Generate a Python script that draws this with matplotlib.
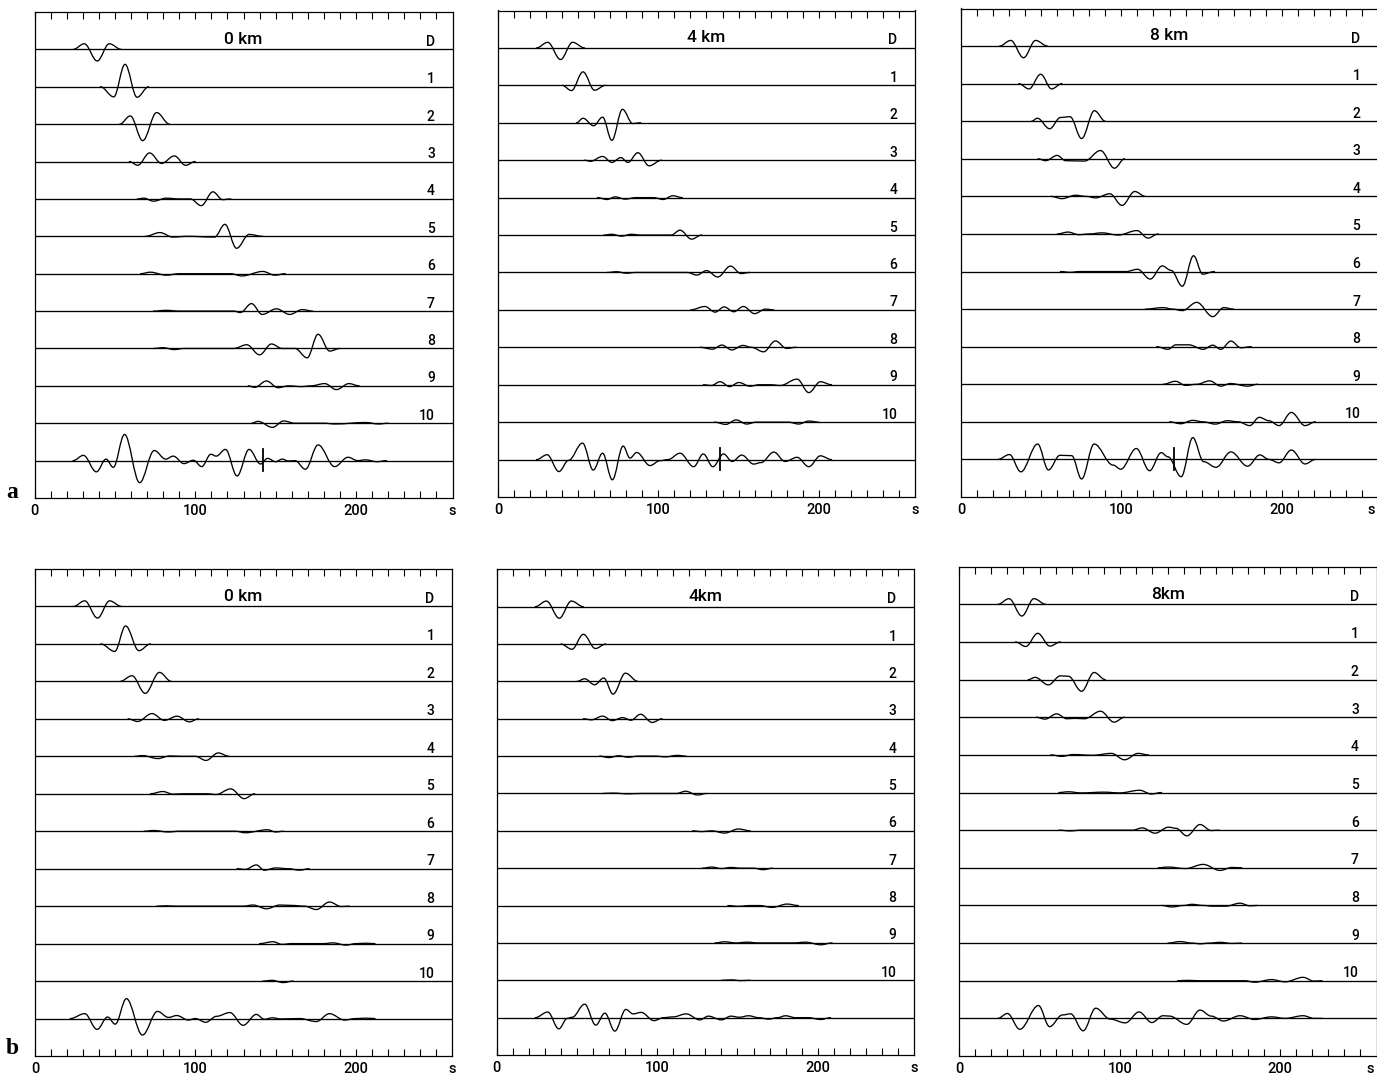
"""Seismogram panels (a, b): direct wave D, higher modes 1-10 and their sum, at 0, 4, 8 km."""
import numpy as np
import matplotlib
matplotlib.use("Agg")
import matplotlib.pyplot as plt
from matplotlib.path import Path
from matplotlib.patches import PathPatch

plt.rcParams["font.family"] = ["Roboto", "DejaVu Sans"]

# --- data: wavelet extrema, (time s, amplitude in trace spacings) ---
TRACE_LABELS = ["D", "1", "2", "3", "4", "5", "6", "7", "8", "9", "10"]
TITLES_A = ["0 km", "4 km", "8 km"]
TITLES_B = ["0 km", "4km", "8km"]
SUM_MARK_A = [142.0, 138.5, 132.5]   # vertical marker on the sum trace, row a

DIRECT = [(24, 0), (31, 0.15), (39, -0.31), (46.5, 0.15), (54, 0)]

A_0KM = [
    [(41, 0), (49.3, -0.27), (56.3, 0.60), (63.8, -0.28), (71, 0)],
    [(53, 0), (59.6, 0.22), (67.3, -0.44), (76, 0.31), (84, 0)],
    [(59, 0), (64.2, -0.1), (71.6, 0.23), (79, -0.05), (87, 0.15), (94, -0.1), (100, 0)],
    [(64, 0), (68, 0.02), (74, -0.06), (82, 0.02), (90, 0), (97, 0), (103.7, -0.18), (111, 0.19), (117, -0.02), (122, 0)],
    [(69, 0), (78, 0.1), (86, -0.02), (95, 0), (112, -0.02), (118.4, 0.32), (125.7, -0.32), (133.5, 0.05), (142, 0)],
    [(66, 0), (72, 0.04), (82, -0.04), (90, 0), (122, 0), (129, -0.06), (142, 0.06), (149.5, -0.04), (156, 0)],
    [(74, 0), (82, 0.02), (90, 0), (124, 0), (128, -0.04), (135, 0.2), (141.6, -0.09), (150.5, 0.06), (158.8, -0.09), (166.5, 0.04), (173, 0)],
    [(74, 0), (80, 0.02), (87, -0.03), (93, 0), (124, 0), (132, 0.1), (140, -0.17), (147.4, 0.12), (154, 0), (162, 0), (169.6, -0.25), (176.4, 0.38), (183.6, -0.07), (190, 0)],
    [(133, 0), (137, -0.04), (144.3, 0.13), (151.5, -0.05), (158, 0), (166, -0.02), (172, 0), (180.5, 0.06), (187.8, -0.1), (195.6, 0.06), (202, 0)],
    [(135, 0), (139, 0.05), (148, -0.11), (155, 0.06), (162, 0), (180, 0), (187, -0.02), (206, 0.02), (214, -0.02), (220, 0)],
    [(24, 0), (30.4, 0.14), (38.5, -0.30), (44.5, 0.04), (49, -0.18), (56, 0.70), (65.4, -0.59), (74.5, 0.27), (81.6, 0.04),
     (86.3, 0.12), (93, -0.08), (98.8, 0.01), (104, -0.16), (109.7, 0.17), (113, 0.12), (118.8, 0.30), (126, -0.41),
     (133.5, 0.30), (140.6, -0.09), (145, 0.06), (150, -0.03), (154, 0.04), (158, -0.01), (162, 0), (168.5, -0.23),
     (176.4, 0.42), (186.7, -0.16), (195, 0.09), (201, 0), (206, 0.02), (213, -0.03), (219, 0)],
]

A_4KM = [
    [(40, 0), (45.8, -0.14), (53, 0.36), (60.2, -0.13), (67, 0)],
    [(49, 0), (53, 0.12), (59.6, -0.08), (65.2, 0.15), (71, -0.47), (77.6, 0.36), (84, -0.02), (89, 0)],
    [(54, 0), (57.6, -0.03), (65.2, 0.1), (71, -0.06), (76.6, 0.07), (81, -0.06), (87.2, 0.2), (94.2, -0.15), (102, 0)],
    [(62, 0), (68, -0.05), (73, 0.02), (79.3, -0.04), (86, 0), (97, 0), (103, -0.05), (109, 0.05), (115, 0)],
    [(66, 0), (71, 0.02), (77, -0.03), (83, 0.02), (89, 0), (108, 0), (113.5, 0.13), (120.7, -0.11), (127, 0)],
    [(68, 0), (74, 0.02), (80, -0.02), (86, 0), (118, 0), (124, -0.07), (130, 0.05), (137, -0.12), (145, 0.17), (151.5, -0.03), (157, 0)],
    [(120, 0), (129, 0.09), (135.4, -0.06), (141, 0.08), (147, -0.05), (153, 0.09), (160, -0.1), (166.7, 0.02), (172, 0)],
    [(126, 0), (133.7, -0.05), (139.6, 0.06), (145.8, -0.07), (152.7, 0.05), (158, 0), (165.6, -0.12), (173, 0.17), (180, -0.03), (186, 0)],
    [(128, 0), (133, -0.02), (138.5, 0.08), (144.4, -0.05), (150.2, 0.06), (157, -0.04), (163, 0), (170, 0), (176, -0.02),
     (186.5, 0.15), (193.8, -0.21), (201, 0.08), (208, 0)],
    [(135, 0), (142, -0.06), (148.5, 0.06), (155, -0.05), (161, 0), (181, 0), (187.5, -0.05), (193.8, 0.03), (200, 0)],
    [(24, 0), (30.6, 0.13), (38, -0.32), (44, -0.02), (52.7, 0.44), (59.4, -0.28), (65.2, 0.17), (71.3, -0.54), (78, 0.36),
     (82.3, 0.04), (86.5, 0.19), (94.8, -0.16), (101, -0.03), (106, 0), (113.5, 0.17), (122, -0.19), (128, 0.15),
     (134, -0.19), (140.6, 0.15), (146, -0.05), (152, 0.12), (159.4, -0.12), (164, -0.08), (172, 0.2), (179, -0.05),
     (186.5, 0.06), (193.8, -0.19), (201, 0.1), (208, 0)],
]

A_8KM = [
    [(36, 0), (42.4, -0.14), (49.7, 0.25), (56.5, -0.14), (63, 0)],
    [(44, 0), (47.6, 0.08), (55.3, -0.2), (62, 0.1), (68, 0.12), (75.2, -0.46), (83.2, 0.28), (90, 0)],
    [(48, 0), (52.8, -0.05), (60, 0.09), (65.2, -0.05), (77, -0.06), (87, 0.22), (95.7, -0.25), (102, 0)],
    [(56, 0), (63, -0.06), (71.4, 0.03), (78, 0), (83.9, -0.04), (92.8, 0.07), (100.4, -0.24), (108.3, 0.13), (115, 0)],
    [(60, 0), (66.7, 0.05), (73.5, -0.02), (80, 0), (88, 0.03), (98, -0.03), (109.7, 0.09), (116.6, -0.11), (123, 0)],
    [(62, 0), (68, -0.02), (74, 0), (103, 0), (110, 0.06), (118, -0.2), (125.5, 0.15), (131, 0.03), (138, -0.39), (145, 0.42), (150.7, -0.07), (158, 0)],
    [(115, 0), (126, 0.04), (132, 0), (138, -0.04), (147, 0.18), (157, -0.2), (163.8, 0.04), (170, 0)],
    [(122, 0), (129, -0.07), (134, 0.05), (142, 0.05), (151, -0.07), (157, 0.04), (162, -0.07), (168.3, 0.15), (174.5, -0.03), (181, 0)],
    [(126, 0), (133.7, 0.08), (140, -0.03), (147, 0), (155, 0.09), (162, -0.05), (168, 0.02), (178.7, -0.05), (185, 0)],
    [(130, 0), (137, -0.05), (144.5, 0.04), (151, 0), (158.6, -0.06), (166, 0.03), (173, 0), (180, -0.1), (186, 0.12),
     (192, 0.03), (198.3, -0.1), (206, 0.25), (214.5, -0.1), (221, 0)],
    [(23, 0), (30.2, 0.13), (37.3, -0.33), (47.8, 0.41), (54.5, -0.28), (61.7, 0.11), (69, 0.10), (75.2, -0.52), (83, 0.41),
     (94.8, -0.15), (99.6, -0.26), (109.3, 0.29), (117.6, -0.30), (124.8, 0.18), (129, 0.07), (137.3, -0.46), (144.5, 0.58),
     (151.3, -0.06), (159, -0.21), (168.3, 0.2), (178.7, -0.18), (186.3, 0.12), (192, 0), (198.3, -0.09), (206, 0.25),
     (214.5, -0.12), (221, 0)],
]

B_0KM = [
    [(41, 0), (49.7, -0.2), (56.5, 0.48), (64.8, -0.18), (72, 0)],
    [(53, 0), (60.5, 0.15), (68.7, -0.32), (77.6, 0.24), (85, 0)],
    [(58, 0), (64, -0.07), (72.9, 0.14), (80.7, -0.04), (88.6, 0.07), (96.3, -0.08), (102, 0)],
    [(62, 0), (67, 0.02), (76.6, -0.06), (84, 0.01), (92, 0), (100, 0), (106.6, -0.11), (114.3, 0.09), (121, 0)],
    [(72, 0), (79.7, 0.06), (86, -0.01), (92, 0), (108, 0), (112.8, -0.02), (122, 0.13), (130.4, -0.13), (137, 0)],
    [(68, 0), (74, 0.02), (83, -0.02), (90, 0), (125, 0), (131, -0.04), (145, 0.04), (150, -0.02), (155, 0)],
    [(126, 0), (131, -0.02), (138, 0.1), (143, -0.04), (150, 0.02), (158, 0), (165, -0.04), (171, 0)],
    [(76, 0), (82, 0.01), (88, 0), (130, 0), (136, 0.03), (144.3, -0.07), (152.6, 0.03), (160, 0.02), (168, 0), (175.4, -0.09), (183.6, 0.11), (191, -0.01), (196, 0)],
    [(140, 0), (148.4, 0.05), (154, -0.02), (160, 0), (180, 0), (185.7, 0.02), (194, -0.04), (200, 0), (206, 0.01), (212, 0)],
    [(142, 0), (148, 0.02), (154.7, -0.04), (161, 0)],
    [(22, 0), (31, 0.13), (38.7, -0.29), (45.3, 0.04), (50, -0.15), (57, 0.53), (67, -0.44), (76.4, 0.19), (83.2, 0.03),
     (88.4, 0.08), (95.6, -0.04), (100, 0), (106.4, -0.1), (113.2, 0.06), (121.5, 0.16), (129.8, -0.18), (138, 0.11),
     (143, -0.02), (148, 0.02), (153, -0.01), (165, 0), (175.4, -0.08), (183.6, 0.13), (193, -0.04), (200, 0), (206, 0.01), (212, 0)],
]

B_4KM = [
    [(40, 0), (46.9, -0.14), (54, 0.26), (61.5, -0.12), (68, 0)],
    [(50, 0), (54.8, 0.07), (61, -0.09), (66.7, 0.09), (72.5, -0.34), (80.2, 0.22), (88, 0)],
    [(54, 0), (59, -0.03), (66, 0.07), (72, -0.05), (78.5, 0.03), (83.7, -0.04), (89.6, 0.12), (96.9, -0.1), (103, 0)],
    [(64, 0), (70, -0.04), (76, 0.01), (82, -0.03), (88, 0), (99, 0), (105, -0.02), (112.5, 0.02), (118, 0)],
    [(66, 0), (72, 0.01), (82, -0.01), (90, 0), (112, 0), (117.7, 0.06), (125, -0.04), (131, 0)],
    [(122, 0), (127.6, -0.02), (134, 0), (142, -0.06), (150.6, 0.05), (158, 0)],
    [(128, 0), (134, 0.03), (140, -0.01), (146, 0.02), (152, 0), (160, 0), (166, -0.04), (172, 0)],
    [(144, 0), (150.6, -0.02), (158, 0), (164, 0), (171.5, -0.05), (181, 0.04), (188, 0)],
    [(136, 0), (142, 0.03), (149, 0), (156, 0.02), (163, 0), (185, 0), (192.5, 0.02), (202, -0.05), (209, 0)],
    [(140, 0), (146.4, 0.01), (152, -0.01), (158, 0)],
    [(24, 0), (31.8, 0.15), (38.7, -0.30), (44, -0.02), (47, 0.01), (54.8, 0.36), (61.7, -0.2), (67.4, 0.12), (73.6, -0.36),
     (80.5, 0.22), (85, 0.1), (90, 0.14), (98, -0.08), (104, 0), (110, 0.02), (118, 0.1), (126.6, -0.06), (131.8, 0.04),
     (140, -0.06), (146, 0.04), (151, 0.01), (157, 0.05), (163, 0), (169.5, -0.04), (175, 0), (180, 0.05), (186, 0),
     (194, 0), (202, -0.05), (208, 0)],
]

B_8KM = [
    [(35, 0), (41.4, -0.12), (48.9, 0.23), (56.5, -0.11), (63, 0)],
    [(43, 0), (47.2, 0.06), (55.5, -0.14), (63, 0.1), (68, 0.09), (76.2, -0.31), (84, 0.19), (91, 0)],
    [(48, 0), (53.4, -0.05), (60.7, 0.09), (67, -0.04), (72, -0.03), (78, -0.04), (88, 0.16), (96.5, -0.13), (103, 0)],
    [(57, 0), (63.8, -0.04), (71, 0.01), (83, -0.01), (94.8, 0.04), (103, -0.13), (111.4, 0.04), (118, 0)],
    [(62, 0), (68, 0.02), (76, -0.01), (90, 0.01), (100, -0.01), (112.4, 0.06), (119.7, -0.04), (126, 0)],
    [(62, 0), (69, -0.02), (76, 0), (108, 0), (114, 0.06), (122, -0.08), (130.4, 0.08), (135, 0.05), (141.8, -0.15), (150, 0.15), (157, -0.01), (162, 0)],
    [(124, 0), (130, 0.02), (141, -0.02), (152, 0.09), (162.5, -0.07), (170, 0.01), (176, 0)],
    [(126, 0), (132.5, -0.04), (140, 0), (145, 0.03), (152, 0), (157.8, -0.02), (166, -0.02), (175, 0.06), (181, -0.01), (186, 0)],
    [(130, 0), (137.7, 0.04), (145, 0), (150, -0.02), (156, 0), (162.5, 0.02), (170, -0.01), (176, 0)],
    [(136, 0), (142, 0.01), (150, 0), (178, 0), (184, -0.04), (194.6, 0.03), (203, -0.03), (214.3, 0.09), (221, -0.01), (226, 0)],
    [(24, 0), (30, 0.13), (37.7, -0.29), (49.3, 0.34), (56.3, -0.22), (64.2, 0.09), (69.4, 0.12), (77.2, -0.33), (85, 0.27),
     (94, -0.02), (103.5, -0.12), (112, 0.17), (120, -0.11), (127, 0.07), (131, 0.06), (141.8, -0.16), (150, 0.22),
     (157, 0.06), (164.6, -0.07), (175, 0.07), (184, -0.03), (194.6, 0.04), (203, 0), (214.3, 0.07), (221, 0), (226, 0)],
]

# --- layout (pixels in the 1377x1075 picture: left, right, top, bottom of each frame) ---
W, H = 1377, 1075
XMAX = 260.0
BOXES_A = [(34.5, 452.5, 12.0, 498.0), (498.0, 915.0, 10.5, 497.0), (961.0, 1378.0, 8.5, 497.0)]
BOXES_B = [(35.0, 452.0, 569.0, 1056.0), (496.7, 914.0, 569.3, 1055.0), (959.3, 1376.5, 566.7, 1056.0)]
S_LABEL_X = [1.0, 1.0, 0.985]   # "s" unit label, axes fraction (right column is cut by the page edge)
LW = 0.95


def wave_path(points, level):
    """Smooth curve through the extrema: cubic Bezier pieces with flat tangents at each point."""
    verts = [(points[0][0], level + points[0][1])]
    codes = [Path.MOVETO]
    for (t0, a0), (t1, a1) in zip(points[:-1], points[1:]):
        k = 0.364 * (t1 - t0)
        verts += [(t0 + k, level + a0), (t1 - k, level + a1), (t1, level + a1)]
        codes += [Path.CURVE4] * 3
    return Path(verts, codes)


def draw_panel(fig, box, traces, title, s_x, mark=None):
    x0, x1, y0, y1 = box
    ax = fig.add_axes([x0 / W, 1 - y1 / H, (x1 - x0) / W, (y1 - y0) / H])
    ax.set_xlim(0, XMAX)
    ax.set_ylim(0, 13)
    n = len(TRACE_LABELS) + 1
    levels = np.arange(n, 0, -1)          # D at top (12) ... sum at bottom (1)
    ax.hlines(levels, 0, XMAX, color="black", lw=LW)

    all_traces = [DIRECT] + traces
    for lvl, tr in zip(levels, all_traces):
        ax.add_patch(PathPatch(wave_path(tr, lvl), fill=False, ec="black", lw=LW, capstyle="round"))
    for lvl, lab in zip(levels, TRACE_LABELS):
        ax.text(249, lvl + 0.2, lab, ha="right", va="center", fontsize=10, weight="medium")
    ax.text(130, levels[0] + 0.27, title, ha="center", va="center", fontsize=12.5, weight="medium")
    if mark is not None:
        ax.plot([mark, mark], [levels[-1] - 0.29, levels[-1] + 0.31], color="black", lw=1.3)

    ax.set_yticks([])
    ticks = np.arange(0, XMAX, 10)
    ax.set_xticks(ticks)
    ax.set_xticklabels([f"{t:.0f}" if t % 100 == 0 else "" for t in ticks])
    ax.tick_params(axis="x", direction="in", top=True, length=5, width=0.8, labelsize=10.5, pad=4)
    for lab in ax.get_xticklabels():
        lab.set_fontweight("medium")
    ax.text(s_x, -0.012, "s", transform=ax.transAxes, ha="center", va="top", fontsize=10.5, weight="medium")
    for sp in ax.spines.values():
        sp.set_linewidth(0.9)
    return ax


def main():
    fig = plt.figure(figsize=(W / 100, H / 100), dpi=100)
    for box, tr, title, s_x, mark in zip(BOXES_A, [A_0KM, A_4KM, A_8KM], TITLES_A, S_LABEL_X, SUM_MARK_A):
        draw_panel(fig, box, tr, title, s_x, mark)
    for box, tr, title, s_x in zip(BOXES_B, [B_0KM, B_4KM, B_8KM], TITLES_B, S_LABEL_X):
        draw_panel(fig, box, tr, title, s_x)

    fig.text(12 / W, 1 - 492 / H, "a", family="Liberation Serif", weight="bold", fontsize=17, ha="center", va="center")
    fig.text(12 / W, 1 - 1049 / H, "b", family="Liberation Serif", weight="bold", fontsize=17, ha="center", va="center")

    fig.savefig("out.png", dpi=100)
    plt.close(fig)


if __name__ == "__main__":
    main()
